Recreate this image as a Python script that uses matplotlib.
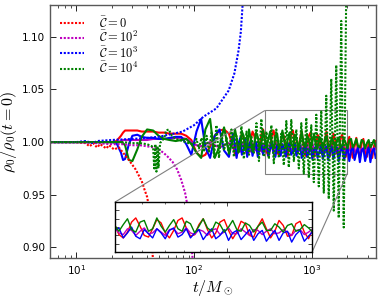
import matplotlib
matplotlib.use("Agg")
import matplotlib.pyplot as plt
from mpl_toolkits.axes_grid1.inset_locator import mark_inset

plt.rcParams['mathtext.fontset'] = 'cm'
plt.rcParams['font.family'] = ['DejaVu Sans']

# ---------------- data ----------------
t_early = [6, 10, 15, 20, 22, 24, 25, 26, 28, 30, 33, 36, 40,
           45, 50, 56, 62, 70, 78, 86, 95, 105, 115, 125, 137, 150, 165, 180, 198]
t_late = [215, 223, 230, 238, 247, 255, 264, 273, 283, 293,
          303, 314, 325, 336, 348, 360, 373, 386, 399, 413,
          428, 443, 458, 474, 491, 508, 526, 544, 563, 583,
          603, 624, 646, 669, 692, 716, 741, 767, 794, 822,
          851, 881, 911, 943, 976, 1011, 1046, 1082, 1120, 1160,
          1200, 1242, 1286, 1331, 1377, 1425, 1475, 1527, 1580, 1636,
          1693, 1752, 1813, 1877, 1943, 2011, 2081, 2154, 2229, 2307,
          2388, 2472, 2558, 2648, 2740, 2836, 2935, 3038, 3144, 3254,
          3368, 3486]

red_early = [1.000, 1.000, 1.000, 1.000, 1.001, 1.006, 1.009, 1.011, 1.011, 1.011, 1.011, 1.010, 1.010,
             1.010, 1.009, 1.009, 1.008, 1.008, 1.008, 1.006, 1.002, 0.990, 0.986, 0.988, 0.996, 1.006, 1.011, 1.012, 1.008]
red_late = [0.995, 0.989, 0.987, 0.992, 1.001, 1.008, 1.004, 0.994, 0.988, 0.991,
            1.002, 1.010, 1.006, 0.996, 0.989, 0.995, 1.007, 1.012, 1.003, 0.991,
            0.987, 0.994, 1.006, 1.011, 1.001, 0.990, 0.988, 0.998, 1.009, 1.005,
            0.993, 0.987, 0.996, 1.008, 1.011, 0.999, 0.989, 0.991, 1.003, 1.010,
            0.997, 0.987, 0.993, 1.006, 1.009, 0.996, 0.986, 0.994, 1.007, 1.004,
            0.990, 0.988, 1.001, 1.010, 0.998, 0.987, 0.995, 1.008, 1.002, 0.989,
            0.990, 1.004, 1.007, 0.994, 0.986, 0.997, 1.005, 0.993, 0.985, 0.996,
            1.004, 0.991, 0.985, 0.999, 1.003, 0.990, 0.986, 1.000, 0.995, 0.985,
            0.996, 1.001]

mag_early = [1.000, 1.000, 1.000, 1.000, 1.000, 1.001, 1.002, 1.002, 1.002, 1.002, 1.002, 1.002, 1.002,
             1.003, 1.003, 1.003, 1.003, 1.004, 1.004, 1.003, 1.000, 0.997, 0.996, 0.998, 1.000, 0.997, 0.995, 0.997, 0.999]
mag_late = [0.996, 0.993, 0.998, 0.994, 0.991, 0.999, 0.995, 0.992, 0.998, 0.993,
            0.991, 0.999, 0.994, 0.992, 0.998, 0.995, 0.991, 0.997, 0.999, 0.993,
            0.991, 0.998, 0.996, 0.990, 0.995, 0.999, 0.992, 0.993, 0.998, 0.994,
            0.990, 0.997, 0.998, 0.992, 0.994, 0.999, 0.993, 0.991, 0.997, 0.995,
            0.990, 0.996, 0.998, 0.991, 0.994, 0.999, 0.992, 0.992, 0.998, 0.994,
            0.990, 0.997, 0.996, 0.991, 0.995, 0.998, 0.992, 0.993, 0.997, 0.994,
            0.990, 0.996, 0.997, 0.991, 0.994, 0.998, 0.992, 0.992, 0.997, 0.993,
            0.990, 0.996, 0.996, 0.991, 0.994, 0.997, 0.991, 0.993, 0.996, 0.992,
            0.991, 0.995]

blue_early = [1.000, 1.000, 1.000, 1.000, 0.999, 0.990, 0.983, 0.984, 0.998, 1.006, 1.007, 1.005, 1.004,
              1.004, 1.003, 1.003, 1.004, 1.005, 1.005, 0.998, 0.988, 1.010, 1.022, 0.995, 0.985, 1.006, 1.012, 0.992, 0.986]
blue_late = [1.008, 0.996, 0.985, 0.998, 1.004, 0.988, 0.993, 1.003, 0.986, 0.997,
             1.001, 0.987, 0.995, 1.000, 0.986, 0.994, 0.999, 0.988, 0.996, 0.999,
             0.987, 0.993, 1.000, 0.989, 0.986, 0.997, 0.992, 0.987, 0.998, 0.993,
             0.986, 0.996, 0.999, 0.988, 0.991, 0.998, 0.987, 0.993, 0.997, 0.985,
             0.992, 0.998, 0.986, 0.990, 0.997, 0.984, 0.993, 0.996, 0.985, 0.991,
             0.997, 0.984, 0.992, 0.996, 0.983, 0.990, 0.996, 0.984, 0.993, 0.995,
             0.982, 0.991, 0.996, 0.983, 0.989, 0.995, 0.982, 0.992, 0.995, 0.983,
             0.990, 0.995, 0.981, 0.992, 0.994, 0.982, 0.989, 0.995, 0.981, 0.991,
             0.994, 0.985]

green_early = [1.000, 1.000, 1.000, 1.000, 1.000, 1.000, 0.999, 0.997, 0.983, 0.982, 0.993, 1.005, 1.012,
               1.011, 1.006, 1.003, 1.002, 1.001, 1.002, 1.003, 0.998, 0.990, 0.985, 1.012, 1.022, 0.985, 0.996, 1.014, 0.990]
green_late = [1.002, 1.012, 1.004, 0.990, 0.995, 1.010, 1.006, 0.992, 0.996, 1.012,
              1.003, 0.991, 0.998, 1.009, 1.005, 0.994, 0.999, 1.011, 1.002, 0.995,
              1.003, 1.010, 0.997, 0.994, 1.006, 1.008, 0.995, 0.998, 1.011, 1.001,
              0.994, 1.002, 1.009, 0.998, 0.995, 1.007, 1.004, 0.993, 1.001, 1.010,
              0.999, 0.995, 1.006, 1.003, 0.994, 1.000, 1.008, 0.997, 0.995, 1.005,
              1.002, 0.994, 1.001, 1.006, 0.996, 0.996, 1.004, 1.000, 0.994, 1.002,
              1.004, 0.995, 0.997, 1.003, 0.999, 0.994, 1.002, 1.003, 0.995, 0.998,
              1.003, 0.996, 0.995, 1.002, 1.001, 0.994, 0.999, 1.002, 0.995, 0.998,
              1.002, 0.996]

t_red_dot = [6, 10, 12, 13, 14, 15, 16, 18, 19, 21, 23, 25, 28, 32, 36, 38, 40, 42, 43.5, 45]
red_dot = [1.000, 1.000, 0.999, 0.996, 0.999, 0.995, 0.998, 0.994, 0.997, 0.993, 0.995, 0.990,
           0.983, 0.974, 0.963, 0.955, 0.948, 0.935, 0.915, 0.885]

t_mag_dot = [6, 10, 15, 20, 25, 30, 35, 40, 45, 50, 55, 60, 66, 72, 78, 84, 88, 92, 95, 98]
mag_dot = [1.000, 1.000, 0.999, 0.998, 0.998, 0.997, 0.997, 0.996, 0.995, 0.993, 0.990, 0.986,
           0.981, 0.974, 0.964, 0.952, 0.940, 0.922, 0.905, 0.885]

t_blue_dot = [6, 10, 12, 14, 15, 20, 30, 40, 50, 67, 80, 100, 120, 155, 197, 220, 239, 250, 262]
blue_dot = [1.000, 1.000, 1.001, 0.999, 1.001, 1.002, 1.003, 1.004, 1.005, 1.008, 1.010, 1.016,
            1.024, 1.032, 1.049, 1.065, 1.087, 1.105, 1.140]

t_green_dot = [6, 10, 15, 20, 25, 30, 35, 40, 44, 45, 46, 47, 48, 49, 50, 51.5, 56, 58, 61, 65, 70, 80, 90,
               100, 105, 110, 116, 122, 128, 134, 141, 148, 155, 163, 171, 180, 189, 198, 208, 218,
               229, 241, 253, 265, 279, 293, 307, 323, 339, 356, 373, 392, 412, 432, 454, 476, 500,
               525, 551, 579, 608, 638, 670, 704, 739, 776, 815, 855, 898, 943, 990, 1040, 1092,
               1146, 1203, 1264, 1327, 1393, 1463, 1536, 1613, 1693, 1778, 1867, 1960]
green_dot = [1.000, 1.000, 1.000, 1.000, 1.000, 0.999, 0.999, 0.998, 0.996, 0.995, 0.975, 0.998, 0.972,
             0.996, 0.976, 0.999, 1.004, 1.011, 1.012, 1.006, 1.003, 1.001, 0.999,
             0.998, 1.003, 0.994, 1.004, 0.992, 1.006, 0.990, 1.010, 0.986, 1.016, 0.985, 1.008,
             0.992, 1.004, 0.988, 1.012, 0.986, 1.006, 0.990, 1.015, 0.984, 1.010, 0.988, 1.005,
             0.990, 1.018, 0.982, 1.022, 0.986, 1.010, 0.984, 1.016, 0.980, 1.012, 0.985, 1.008,
             0.978, 1.020, 0.976, 1.021, 0.982, 1.012, 0.975, 1.018, 0.970, 1.023, 0.966, 1.016,
             0.962, 1.026, 0.958, 1.030, 0.952, 1.044, 0.946, 1.060, 0.935, 1.073, 0.928, 1.115,
             0.919, 1.140]

labels = [r'$\bar{\mathcal{C}}=0$', r'$\bar{\mathcal{C}}=10^2$',
          r'$\bar{\mathcal{C}}=10^3$', r'$\bar{\mathcal{C}}=10^4$']
colors = ['r', 'm', 'b', 'g']
ytick_vals = [0.90, 0.95, 1.00, 1.05, 1.10]
ytick_labels = ['0.90', '0.95', '1.00', '1.05', '1.10']

# ---------------- plot ----------------
fig = plt.figure(figsize=(3.82, 2.99), dpi=100)
ax = fig.add_axes([0.131, 0.137, 0.853, 0.846])

t_solid = t_early + t_late
solids = [red_early + red_late, mag_early + mag_late,
          blue_early + blue_late, green_early + green_late]
dots = [(t_red_dot, red_dot), (t_mag_dot, mag_dot), (t_blue_dot, blue_dot), (t_green_dot, green_dot)]
dotstyle = (0, (1, 0.8))

for c, ys in zip(colors, solids):
    ax.plot(t_solid, ys, color=c, lw=1.5, ls='-')
for c, (tt, ys), lab in zip(colors, dots, labels):
    ax.plot(tt, ys, color=c, lw=1.5, ls=dotstyle, label=lab)

ax.set_xscale('log')
ax.set_xlim(6, 3500)
ax.set_ylim(0.89, 1.13)
ax.set_yticks(ytick_vals)
ax.set_yticklabels(ytick_labels)
ax.tick_params(which='both', direction='in', top=True, right=True, labelsize=7.5)
ax.tick_params(which='major', length=4, width=0.6)
ax.tick_params(which='minor', length=2, width=0.5)
for s in ax.spines.values():
    s.set_color('0.35')
    s.set_linewidth(1.0)

ax.set_xlabel(r'$t/M_\odot$', fontsize=11.5, labelpad=1)
ax.set_ylabel(r'$\rho_0/\rho_0(t=0)$', fontsize=11.5, labelpad=2)

leg = ax.legend(loc='upper left', frameon=False, fontsize=9, handlelength=1.9,
                labelspacing=0.02, borderaxespad=0.3, handletextpad=1.2,
                borderpad=0.5)

# inset
axins = fig.add_axes([0.301, 0.157, 0.516, 0.167])
for c, ys in zip(colors, solids):
    axins.plot(t_solid, ys, color=c, lw=1.0, ls='-')
axins.set_xscale('log')
axins.set_xlim(400, 2000)
axins.set_ylim(0.97, 1.03)
axins.tick_params(which='both', direction='in', top=True, right=True,
                  labelbottom=False, labelleft=False)
axins.tick_params(which='major', length=3, width=0.5)
axins.tick_params(which='minor', length=1.5, width=0.4)
axins.xaxis.set_minor_formatter(matplotlib.ticker.NullFormatter())
axins.set_yticks([0.98, 0.99, 1.00, 1.01, 1.02])
for s in axins.spines.values():
    s.set_color('black')
    s.set_linewidth(1.0)

mark_inset(ax, axins, loc1=2, loc2=4, fc='none', ec='0.5', lw=0.8)

fig.savefig('out.png', dpi=100)
